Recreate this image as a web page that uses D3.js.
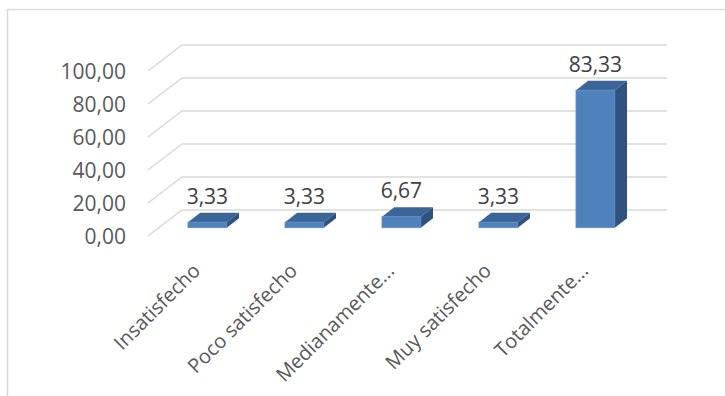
<!DOCTYPE html>
<html>
<head>
<meta charset="utf-8">
<script src="https://cdn.jsdelivr.net/npm/d3@7"></script>
<style>
  body { margin: 0; background: #fff; }
  text { font-family: "Open Sans", sans-serif; }
</style>
</head>
<body>
<div class="chart"></div>
<script>
var svgWidth = 725;
var svgHeight = 396;

// data
var categories = ["Insatisfecho", "Poco satisfecho", "Medianamente...", "Muy satisfecho", "Totalmente..."];
var values = [3.33, 3.33, 6.67, 3.33, 83.33];
var yTicks = [0, 20, 40, 60, 80, 100];

// 3d floor: front edge and the shift to the back wall
var front = { left: 148, right: 633, zero: 236, top: 71 };
var depth = { dx: 34, dy: -26 };
var barDepth = [0.32, 0.68]; // fraction of floor depth taken by bars

var svg = d3.select(".chart")
  .append("svg")
  .attr("width", svgWidth)
  .attr("height", svgHeight);

// chart frame
svg.append("rect")
  .attr("x", 7.5)
  .attr("y", 9.5)
  .attr("width", 740)
  .attr("height", 400)
  .attr("fill", "none")
  .attr("stroke", "#d9d9d9")
  .attr("stroke-width", 1.5);

var xScale = d3.scaleBand()
  .domain(categories)
  .range([front.left, front.right])
  .paddingInner(0.6)
  .paddingOuter(0.3);

var yScale = d3.scaleLinear()
  .domain([0, 100])
  .range([front.zero, front.top]);

var fmt = v => d3.format(".2f")(v).replace(".", ",");

// gridlines: diagonal on the side wall + horizontal on the back wall
var grid = svg.append("g");
yTicks.forEach(t => {
  var y = yScale(t);
  grid.append("path")
    .attr("d", `M${front.left},${y} L${front.left + depth.dx},${y + depth.dy} L${front.right + depth.dx},${y + depth.dy}`)
    .attr("fill", "none")
    .attr("stroke", "#d9d9d9")
    .attr("stroke-width", 1.5);
});

// y axis labels
svg.append("g").selectAll("text")
  .data(yTicks)
  .enter()
  .append("text")
  .attr("x", 126)
  .attr("y", d => yScale(d))
  .attr("dy", "0.36em")
  .attr("text-anchor", "end")
  .attr("fill", "#595959")
  .style("font-size", "21px")
  .text(d => fmt(d));

// bars
var bars = svg.append("g").selectAll("g")
  .data(categories)
  .enter()
  .append("g");

var fx = d => xScale(d) + barDepth[0] * depth.dx;
var fy0 = barDepth[0] * depth.dy;
var bdx = (barDepth[1] - barDepth[0]) * depth.dx;
var bdy = (barDepth[1] - barDepth[0]) * depth.dy;
var bw = xScale.bandwidth();

// top
bars.append("path")
  .attr("d", (d, i) => {
    var x = fx(d), y = yScale(values[i]) + fy0;
    return `M${x},${y} L${x + bdx},${y + bdy} L${x + bw + bdx},${y + bdy} L${x + bw},${y} Z`;
  })
  .attr("fill", "#3c6597");

// side
bars.append("path")
  .attr("d", (d, i) => {
    var x = fx(d) + bw, y = yScale(values[i]) + fy0, y0 = yScale(0) + fy0;
    return `M${x},${y} L${x + bdx},${y + bdy} L${x + bdx},${y0 + bdy} L${x},${y0} Z`;
  })
  .attr("fill", "#30527f");

// front
bars.append("rect")
  .attr("x", d => fx(d))
  .attr("y", (d, i) => yScale(values[i]) + fy0)
  .attr("width", bw)
  .attr("height", (d, i) => yScale(0) - yScale(values[i]))
  .attr("fill", "#4f81bd")
  .attr("stroke", "#5a8bc6")
  .attr("stroke-width", 0.8);

// data labels
bars.append("text")
  .attr("x", d => fx(d) + bw / 2)
  .attr("y", (d, i) => yScale(values[i]) + fy0 + bdy - 9)
  .attr("text-anchor", "middle")
  .attr("fill", "#404040")
  .style("font-size", "21px")
  .text((d, i) => fmt(values[i]));

// category labels
svg.append("g").selectAll("text")
  .data(categories)
  .enter()
  .append("text")
  .attr("transform", d => `translate(${xScale(d) + bw / 2 + 5}, 272) rotate(-45)`)
  .attr("text-anchor", "end")
  .attr("fill", "#595959")
  .style("font-size", "20px")
  .text(d => d);
</script>
</body>
</html>
